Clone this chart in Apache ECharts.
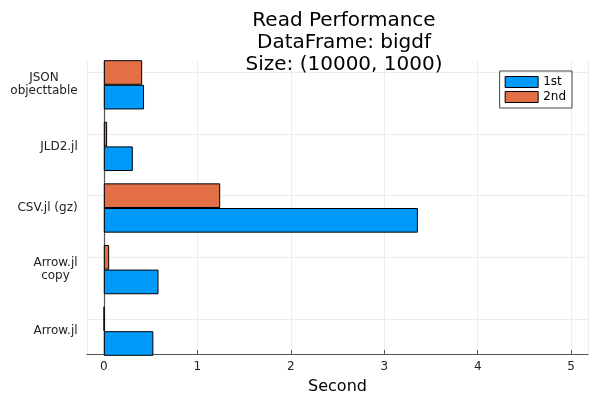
<!DOCTYPE html>
<html>
<head>
<meta charset="utf-8">
<script src="https://cdn.jsdelivr.net/npm/echarts@6/dist/echarts.min.js"></script>
<style>html,body{margin:0;padding:0;background:#fff}#main{width:600px;height:400px}</style>
</head>
<body>
<div id="main"></div>
<script>
// data (seconds)
const categories = ['Arrow.jl', 'Arrow.jl\ncopy', 'CSV.jl (gz)', 'JLD2.jl', 'JSON\nobjecttable'];
const first = [0.53, 0.585, 3.36, 0.31, 0.43];
const second = [0.005, 0.057, 1.245, 0.035, 0.41];
const xTicks = [0, 1, 2, 3, 4, 5];

const font = 'DejaVu Sans';
const xMin = -0.18, xMax = 5.18;

// multi-line y labels: lines centred on each other, block right-aligned
const ctx = document.createElement('canvas').getContext('2d');
ctx.font = '12px "DejaVu Sans"';
const rich = {};
categories.forEach((c, i) => {
    const w = Math.max(...c.split('\n').map(l => ctx.measureText(l).width));
    rich['c' + i] = { width: Math.ceil(w), align: 'center', fontSize: 12, lineHeight: 13, color: '#222', fontFamily: font };
});

let options = {
    animation: false,
    textStyle: { fontFamily: font },
    title: {
        text: 'Read Performance\nDataFrame: bigdf\nSize: (10000, 1000)',
        left: 339, top: 5, textAlign: 'center',
        textStyle: { fontFamily: font, fontSize: 20, fontWeight: 'normal', lineHeight: 22, color: '#000' }
    },
    legend: {
        orient: 'vertical', right: 28, top: 71,
        icon: 'rect', itemWidth: 33, itemHeight: 11, itemGap: 3,
        padding: [5, 6, 5, 5],
        borderColor: '#444', borderWidth: 1,
        itemStyle: { borderWidth: 1, borderColor: '#000' },
        textStyle: { fontFamily: font, fontSize: 12, color: '#000' },
        data: ['1st', '2nd']
    },
    grid: [
        // bars + category labels
        { left: 87, right: 12, top: 54, bottom: 38 },
        // visible frame: x axis and y spine
        { left: 87, right: 12, top: 61, bottom: 45 }
    ],
    xAxis: [
        { gridIndex: 0, type: 'value', min: xMin, max: xMax, show: false },
        {
            gridIndex: 1, type: 'value', min: xMin, max: xMax,
            name: 'Second', nameLocation: 'middle', nameGap: 25,
            nameTextStyle: { fontFamily: font, fontSize: 16, color: '#000' },
            axisLine: { lineStyle: { color: '#555', width: 1.2 } },
            axisTick: { inside: true, length: 4, lineStyle: { color: '#555' } },
            axisLabel: {
                color: '#222', fontSize: 12, margin: 7,
                showMinLabel: false, showMaxLabel: false,
                formatter: v => xTicks.includes(v) ? String(v) : ''
            },
            splitLine: { lineStyle: { color: '#ececec' } }
        }
    ],
    yAxis: [
        {
            gridIndex: 0, type: 'category', data: categories,
            axisLine: { show: false },
            axisTick: { inside: true, alignWithLabel: true, length: 4, lineStyle: { color: '#555' } },
            axisLabel: {
                margin: 9, rich: rich,
                formatter: (v, i) => v.split('\n').map(l => '{c' + i + '|' + l + '}').join('\n')
            },
            splitLine: { show: false }
        },
        {
            gridIndex: 1, type: 'value', min: 0, max: 1,
            axisLine: { show: true, lineStyle: { color: '#555', width: 1.2 } },
            axisTick: { show: false }, axisLabel: { show: false }, splitLine: { show: false }
        }
    ],
    series: [
        {
            name: '2nd', type: 'bar', xAxisIndex: 0, yAxisIndex: 0,
            data: second, barGap: '0%', barCategoryGap: '20%',
            itemStyle: { color: '#E36F47', borderColor: '#000', borderWidth: 1 },
            markLine: {
                silent: true, symbol: 'none', z: 0,
                label: { show: false },
                lineStyle: { color: '#ececec', type: 'solid', width: 1 },
                data: categories.map(c => ({ yAxis: c }))
            }
        },
        {
            name: '1st', type: 'bar', xAxisIndex: 0, yAxisIndex: 0,
            data: first, barGap: '0%', barCategoryGap: '20%',
            itemStyle: { color: '#009AFA', borderColor: '#000', borderWidth: 1 }
        }
    ]
};

let myChart = echarts.init(document.getElementById('main'));
myChart.setOption(options);
</script>
</body>
</html>
